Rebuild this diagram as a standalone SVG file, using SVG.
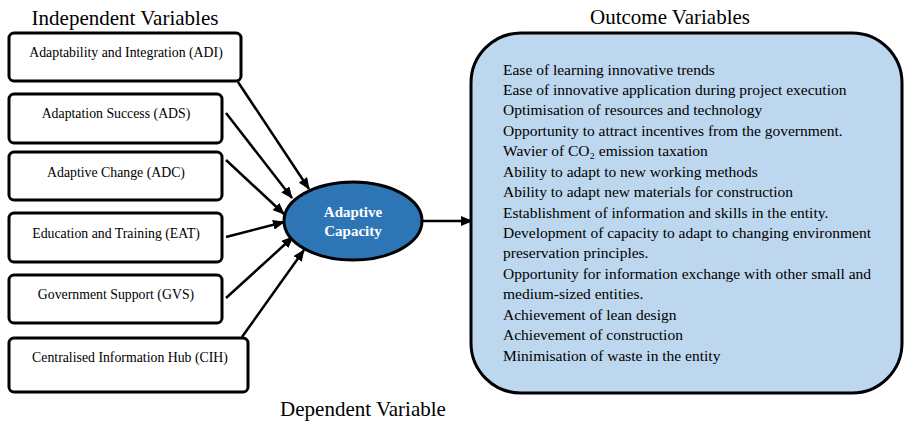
<svg xmlns="http://www.w3.org/2000/svg" width="905" height="423" viewBox="0 0 905 423">
<style>
text{font-family:"Liberation Serif","Times New Roman",serif;fill:#000}
.title{font-size:21px}
.box{fill:#fff;stroke:#000;stroke-width:3}
.lbl{font-size:13.8px;text-anchor:middle}
.out{font-size:15.5px}
.conn{stroke:#000;stroke-width:2.5;fill:none;marker-end:url(#ah)}
</style>
<defs>
<marker id="ah" markerUnits="userSpaceOnUse" markerWidth="12" markerHeight="10" refX="11" refY="5" orient="auto">
<path d="M0,0 L12,5 L0,10 Z" fill="#000"/>
</marker>
</defs>
<text class="title" x="125" y="25" text-anchor="middle">Independent Variables</text>
<text class="title" x="670" y="24" text-anchor="middle">Outcome Variables</text>
<text class="title" x="363" y="416" text-anchor="middle">Dependent Variable</text>

<g id="connectors">
<line class="conn" x1="238" y1="82" x2="309" y2="189"/>
<line class="conn" x1="226" y1="113" x2="292" y2="198"/>
<line class="conn" x1="226" y1="160" x2="284" y2="214"/>
<line class="conn" x1="226" y1="237" x2="284" y2="222"/>
<line class="conn" x1="226" y1="298" x2="293" y2="237"/>
<line class="conn" x1="242" y1="337" x2="304" y2="250"/>
<line class="conn" x1="422" y1="221" x2="472" y2="221"/>
</g>

<g id="adi"><rect class="box" x="9" y="33" width="232" height="48" rx="5"/><text class="lbl" x="126" y="57">Adaptability and Integration (ADI)</text></g>
<g id="ads"><rect class="box" x="9" y="94" width="213" height="49" rx="5"/><text class="lbl" x="116" y="118">Adaptation Success (ADS)</text></g>
<g id="adc"><rect class="box" x="9" y="152" width="213" height="48" rx="5"/><text class="lbl" x="116" y="177">Adaptive Change (ADC)</text></g>
<g id="eat"><rect class="box" x="9" y="213" width="213" height="49" rx="5"/><text class="lbl" x="116" y="238">Education and Training (EAT)</text></g>
<g id="gvs"><rect class="box" x="9" y="275" width="213" height="48" rx="5"/><text class="lbl" x="116" y="299">Government Support (GVS)</text></g>
<g id="cih"><rect class="box" x="9" y="338" width="239" height="54" rx="5"/><text class="lbl" x="130" y="362">Centralised Information Hub (CIH)</text></g>

<g id="adaptive-capacity">
<ellipse cx="353" cy="221" rx="69" ry="39" fill="#2E75B6" stroke="#000" stroke-width="3"/>
<text x="353" y="217" text-anchor="middle" font-size="15" font-weight="bold" style="fill:#fff">Adaptive</text>
<text x="353" y="236" text-anchor="middle" font-size="15" font-weight="bold" style="fill:#fff">Capacity</text>
</g>

<g id="outcomes">
<rect x="471" y="33" width="431" height="360" rx="50" fill="#BDD7EE" stroke="#000" stroke-width="3"/>
<text class="out" x="503" y="74.5">Ease of learning innovative trends</text>
<text class="out" x="503" y="94.9">Ease of innovative application during project execution</text>
<text class="out" x="503" y="115.4">Optimisation of resources and technology</text>
<text class="out" x="503" y="135.8">Opportunity to attract incentives from the government.</text>
<text class="out" x="503" y="156.2">Wavier of CO₂ emission taxation</text>
<text class="out" x="503" y="176.6">Ability to adapt to new working methods</text>
<text class="out" x="503" y="197.1">Ability to adapt new materials for construction</text>
<text class="out" x="503" y="217.5">Establishment of information and skills in the entity.</text>
<text class="out" x="503" y="237.9">Development of capacity to adapt to changing environment</text>
<text class="out" x="503" y="258.4">preservation principles.</text>
<text class="out" x="503" y="278.8">Opportunity for information exchange with other small and</text>
<text class="out" x="503" y="299.2">medium-sized entities.</text>
<text class="out" x="503" y="319.6">Achievement of lean design</text>
<text class="out" x="503" y="340.1">Achievement of construction</text>
<text class="out" x="503" y="360.5">Minimisation of waste in the entity</text>
</g>
</svg>
